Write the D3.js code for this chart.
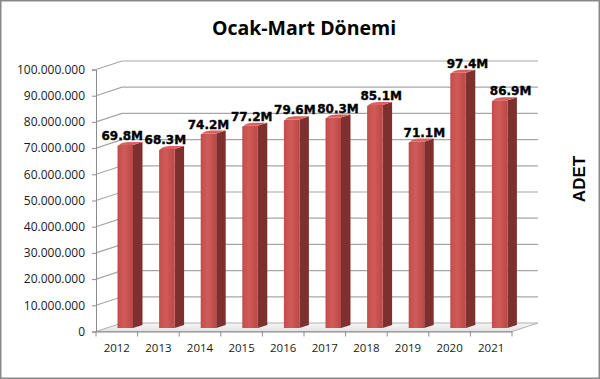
<!DOCTYPE html>
<html>
<head>
<meta charset="utf-8">
<script src="https://cdn.jsdelivr.net/npm/d3@7"></script>
<style>
  body { margin: 0; background: #fff; }
  svg { display: block; }
</style>
</head>
<body>
<script>
// Data
let years = ['2012', '2013', '2014', '2015', '2016', '2017', '2018', '2019', '2020', '2021'];
let counts = [69800000, 68300000, 74200000, 77200000, 79600000, 80300000, 85100000, 71100000, 97400000, 86900000];
let yTicks = [0, 10000000, 20000000, 30000000, 40000000, 50000000, 60000000, 70000000, 80000000, 90000000, 100000000];

let width = 600, height = 379;
let margin = { top: 69.5, bottom: 47.5, left: 96, right: 88 };

// 3D depth offset of the back wall
let depth = { dx: 26, dy: -8.5 };

let svg = d3.select('body')
  .append('svg')
  .attr('width', width)
  .attr('height', height);

let defs = svg.append('defs');
let frontGrad = defs.append('linearGradient').attr('id', 'front').attr('x1', 0).attr('x2', 1);
frontGrad.append('stop').attr('offset', '0%').attr('stop-color', '#c24e4b');
frontGrad.append('stop').attr('offset', '45%').attr('stop-color', '#d05b58');
frontGrad.append('stop').attr('offset', '100%').attr('stop-color', '#bb4845');

let floorGrad = defs.append('linearGradient').attr('id', 'floor').attr('x1', 0).attr('y1', 1).attr('x2', 0).attr('y2', 0);
floorGrad.append('stop').attr('offset', '0%').attr('stop-color', '#e2e2e2');
floorGrad.append('stop').attr('offset', '100%').attr('stop-color', '#f8f8f8');

// Frame
svg.append('rect')
  .attr('x', 0.75).attr('y', 0.75)
  .attr('width', width - 1.5).attr('height', height - 1.5)
  .attr('fill', '#fff')
  .attr('stroke', '#888')
  .attr('stroke-width', 1.5);

let locale = d3.formatLocale({ decimal: ',', thousands: '.', grouping: [3], currency: ['', ''] });
let fmt = locale.format(',');

let yScale = d3.scaleLinear()
  .domain([0, 100000000])
  .range([height - margin.bottom, margin.top]);

let xScale = d3.scaleBand()
  .domain(years)
  .range([margin.left, width - margin.right])
  .padding(0);

let x0 = margin.left, x1 = width - margin.right, y0 = yScale(0);

// Floor
svg.append('path')
  .attr('d', `M${x0},${y0} L${x1},${y0} L${x1 + depth.dx},${y0 + depth.dy} L${x0 + depth.dx},${y0 + depth.dy} Z`)
  .attr('fill', 'url(#floor)')
  .attr('stroke', '#b0b0b0')
  .attr('stroke-width', 1);

// Back wall gridlines and side wall lines
let grid = svg.append('g');
grid.selectAll('path')
  .data(yTicks.slice(1))
  .enter()
  .append('path')
  .attr('d', d => `M${x0},${yScale(d)} L${x0 + depth.dx},${yScale(d) + depth.dy} L${x1 + depth.dx},${yScale(d) + depth.dy}`)
  .attr('fill', 'none')
  .attr('stroke', '#a6a6a6')
  .attr('stroke-width', 1.2);

// Y axis
let yAxis = svg.append('g')
  .attr('transform', `translate(${x0},0)`)
  .call(d3.axisLeft(yScale).tickValues(yTicks).tickFormat(fmt).tickSize(4).tickPadding(7));
yAxis.select('.domain').attr('stroke', '#8c8c8c');
yAxis.selectAll('.tick line').attr('stroke', '#8c8c8c');
yAxis.selectAll('text')
  .style('font-family', '"Open Sans", sans-serif')
  .style('font-size', '12px')
  .attr('fill', '#1a1a1a');

// X axis
let xAxis = svg.append('g')
  .attr('transform', `translate(0,${y0})`)
  .call(d3.axisBottom(xScale).tickSize(0).tickPadding(12));
xAxis.select('.domain').attr('stroke', '#8c8c8c');
xAxis.selectAll('text')
  .style('font-family', '"Open Sans", sans-serif')
  .style('font-size', '11.5px')
  .attr('fill', '#1a1a1a');
xAxis.selectAll('.sep')
  .data(years.concat(['end']))
  .enter()
  .append('line')
  .attr('x1', (d, i) => x0 + i * xScale.bandwidth())
  .attr('x2', (d, i) => x0 + i * xScale.bandwidth())
  .attr('y1', 0).attr('y2', 5)
  .attr('stroke', '#8c8c8c');

// Bars (front face, side, top)
let barW = 15.5, barD = 9.5;
let sideDy = barD * depth.dy / depth.dx;
let barOff = { x: 21.5, y: -3.5 };

let bars = svg.append('g')
  .selectAll('g')
  .data(years.map((y, i) => ({ year: y, value: counts[i], i: i })))
  .enter()
  .append('g');

let bx = d => xScale(d.year) + barOff.x;
let by = d => yScale(d.value) + barOff.y;
let bb = y0 + barOff.y;

bars.append('path')
  .attr('d', d => `M${bx(d) + barW},${bb} L${bx(d) + barW + barD},${bb + sideDy} L${bx(d) + barW + barD},${by(d) + sideDy} L${bx(d) + barW},${by(d)} Z`)
  .attr('fill', '#7e302e');

bars.append('path')
  .attr('d', d => `M${bx(d)},${bb} L${bx(d)},${by(d) + 1.5} Q${bx(d)},${by(d)} ${bx(d) + 2},${by(d)} L${bx(d) + barW},${by(d)} L${bx(d) + barW},${bb} Z`)
  .attr('fill', 'url(#front)');

bars.append('path')
  .attr('d', d => `M${bx(d) + 1.5},${by(d)} L${bx(d) + barW},${by(d)} L${bx(d) + barW + barD},${by(d) + sideDy} L${bx(d) + barD + 1},${by(d) + sideDy} Q${bx(d) + 3},${by(d) + sideDy + 0.5} ${bx(d) + 1.5},${by(d)} Z`)
  .attr('fill', '#d8625f');

// Value labels
bars.append('text')
  .attr('x', d => bx(d) + barW / 2 - 3 + 14 * d.i / (years.length - 1))
  .attr('y', d => by(d) - 5)
  .attr('text-anchor', 'middle')
  .style('font-family', '"DejaVu Sans", sans-serif')
  .style('font-weight', 'bold')
  .style('font-size', '12px')
  .attr('fill', '#000')
  .attr('stroke', '#000')
  .attr('stroke-width', 0.35)
  .text(d => (d.value / 1000000).toFixed(1) + 'M');

// Title
svg.append('text')
  .attr('x', 304)
  .attr('y', 35)
  .attr('text-anchor', 'middle')
  .style('font-family', '"Open Sans", sans-serif')
  .style('font-weight', 'bold')
  .style('font-size', '19.5px')
  .attr('fill', '#000')
  .text('Ocak-Mart Dönemi');

// Right axis title
svg.append('text')
  .attr('transform', 'translate(585,179) rotate(-90)')
  .attr('text-anchor', 'middle')
  .style('font-family', '"Liberation Sans", Arial, sans-serif')
  .style('font-weight', 'bold')
  .style('font-size', '17px')
  .attr('fill', '#000')
  .text('ADET');
</script>
</body>
</html>
